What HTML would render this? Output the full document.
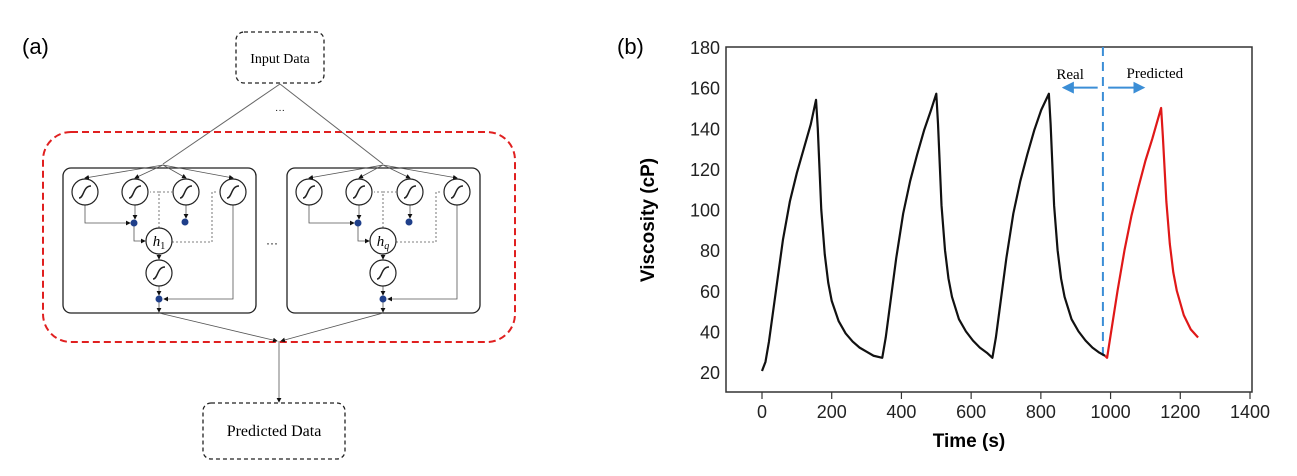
<!DOCTYPE html>
<html><head><meta charset="utf-8"><style>
html,body{margin:0;padding:0;background:#fff;}
svg{display:block;}
</style></head><body>
<svg id="fig" width="1297" height="476" viewBox="0 0 1297 476" xmlns="http://www.w3.org/2000/svg">
<defs>
<marker id="ah" markerWidth="6" markerHeight="6" refX="5" refY="3" orient="auto"><path d="M0,0 L6,3 L0,6 z" fill="#111"/></marker>
<marker id="bh" markerWidth="6" markerHeight="6" refX="5" refY="3" orient="auto"><path d="M0,0 L6,3 L0,6 z" fill="#3b8ed6"/></marker>
<g id="sig"><circle r="13" fill="#fff" stroke="#222" stroke-width="1.2"/><path d="M-6,6 C-1,6 -2,-6 6,-6" fill="none" stroke="#222" stroke-width="1.5"/></g>
</defs>
<text x="22" y="54" font-family="Liberation Sans, sans-serif" font-size="22">(a)</text>
<g>
<rect x="236" y="32" width="88" height="51" rx="8" fill="none" stroke="#222" stroke-width="1.3" stroke-dasharray="4,3"/>
<text x="280" y="63" text-anchor="middle" font-family="Liberation Serif, serif" font-size="14">Input Data</text>
<text x="280" y="113" text-anchor="middle" font-family="Liberation Sans, sans-serif" font-size="10">···</text>
<line x1="280" y1="84" x2="163" y2="164" stroke="#666" stroke-width="1"/>
<line x1="280" y1="84" x2="383" y2="164" stroke="#666" stroke-width="1"/>
<rect x="43" y="132" width="472" height="210" rx="28" fill="none" stroke="#e02020" stroke-width="2" stroke-dasharray="7,4"/>
<g id="cell1">
<rect x="63" y="168" width="193" height="145" rx="8" fill="none" stroke="#222" stroke-width="1.3"/>
<g stroke="#555" stroke-width="0.8" fill="none">
<line x1="163" y1="165" x2="85" y2="178" marker-end="url(#ah)"/>
<line x1="163" y1="165" x2="135" y2="178" marker-end="url(#ah)"/>
<line x1="163" y1="165" x2="186" y2="178" marker-end="url(#ah)"/>
<line x1="163" y1="165" x2="233" y2="178" marker-end="url(#ah)"/>
<polyline points="85,205 85,223 130,223" marker-end="url(#ah)"/>
<line x1="135" y1="205" x2="135" y2="219" marker-end="url(#ah)"/>
<line x1="186" y1="205" x2="186" y2="218" marker-end="url(#ah)"/>
<polyline points="134,226 134,241 145,241" marker-end="url(#ah)"/>
<line x1="159" y1="254" x2="159" y2="259" marker-end="url(#ah)"/>
<line x1="159" y1="286" x2="159" y2="295" marker-end="url(#ah)"/>
<polyline points="233,205 233,299 164,299" marker-end="url(#ah)"/>
<line x1="159" y1="302" x2="159" y2="312" marker-end="url(#ah)"/>
<g stroke-dasharray="2,2"><polyline points="159,228 159,192 150,192"/><line x1="159" y1="192" x2="172" y2="192"/><polyline points="172,242 212,242 212,192 218,192"/></g>
</g>
<use href="#sig" x="85" y="192"/><use href="#sig" x="135" y="192"/><use href="#sig" x="186" y="192"/><use href="#sig" x="233" y="192"/>
<circle cx="159" cy="241" r="13" fill="#fff" stroke="#222" stroke-width="1.2"/>
<use href="#sig" x="159" y="273"/>
<circle cx="134" cy="223" r="3.5" fill="#1f3f8a"/><circle cx="185" cy="222" r="3.5" fill="#1f3f8a"/><circle cx="159" cy="299" r="3.5" fill="#1f3f8a"/>
<text x="159" y="246" text-anchor="middle" font-family="Liberation Serif, serif" font-style="italic" font-size="15">h<tspan font-size="10" font-style="normal" dy="3">1</tspan></text>
</g>
<g transform="translate(224,0)">
<rect x="63" y="168" width="193" height="145" rx="8" fill="none" stroke="#222" stroke-width="1.3"/>
<g stroke="#555" stroke-width="0.8" fill="none">
<line x1="159" y1="165" x2="85" y2="178" marker-end="url(#ah)"/>
<line x1="159" y1="165" x2="135" y2="178" marker-end="url(#ah)"/>
<line x1="159" y1="165" x2="186" y2="178" marker-end="url(#ah)"/>
<line x1="159" y1="165" x2="233" y2="178" marker-end="url(#ah)"/>
<polyline points="85,205 85,223 130,223" marker-end="url(#ah)"/>
<line x1="135" y1="205" x2="135" y2="219" marker-end="url(#ah)"/>
<line x1="186" y1="205" x2="186" y2="218" marker-end="url(#ah)"/>
<polyline points="134,226 134,241 145,241" marker-end="url(#ah)"/>
<line x1="159" y1="254" x2="159" y2="259" marker-end="url(#ah)"/>
<line x1="159" y1="286" x2="159" y2="295" marker-end="url(#ah)"/>
<polyline points="233,205 233,299 164,299" marker-end="url(#ah)"/>
<line x1="159" y1="302" x2="159" y2="312" marker-end="url(#ah)"/>
<g stroke-dasharray="2,2"><polyline points="159,228 159,192 150,192"/><line x1="159" y1="192" x2="172" y2="192"/><polyline points="172,242 212,242 212,192 218,192"/></g>
</g>
<use href="#sig" x="85" y="192"/><use href="#sig" x="135" y="192"/><use href="#sig" x="186" y="192"/><use href="#sig" x="233" y="192"/>
<circle cx="159" cy="241" r="13" fill="#fff" stroke="#222" stroke-width="1.2"/>
<use href="#sig" x="159" y="273"/>
<circle cx="134" cy="223" r="3.5" fill="#1f3f8a"/><circle cx="185" cy="222" r="3.5" fill="#1f3f8a"/><circle cx="159" cy="299" r="3.5" fill="#1f3f8a"/>
<text x="159" y="246" text-anchor="middle" font-family="Liberation Serif, serif" font-style="italic" font-size="15">h<tspan font-size="10" dy="3">q</tspan></text>
</g>
<text x="272" y="247" text-anchor="middle" font-family="Liberation Sans, sans-serif" font-size="12">···</text>
<g stroke="#555" stroke-width="0.8" fill="none">
<line x1="159" y1="313" x2="277" y2="341" marker-end="url(#ah)"/>
<line x1="383" y1="313" x2="281" y2="341" marker-end="url(#ah)"/>
<line x1="279" y1="341" x2="279" y2="402" marker-end="url(#ah)"/>
</g>
<rect x="203" y="403" width="142" height="56" rx="8" fill="none" stroke="#222" stroke-width="1.3" stroke-dasharray="4,3"/>
<text x="274" y="436" text-anchor="middle" font-family="Liberation Serif, serif" font-size="16">Predicted Data</text>
</g>
<text x="617" y="54" font-family="Liberation Sans, sans-serif" font-size="22">(b)</text>
<g id="chart"></g>
</svg>
<script>
const xTicks=[0,200,400,600,800,1000,1200,1400];
const yTicks=[20,40,60,80,100,120,140,160,180];
const realT=[0,10,20,40,60,80,100,120,140,155,160,170,180,190,200,220,240,260,280,300,320,345,
 355,365,385,405,425,445,465,485,500,505,515,525,535,545,565,585,605,625,645,661,
 671,681,701,721,741,761,781,801,823,828,838,848,858,868,888,908,928,948,968,984];
const realV=[20.5,25,35,60,85,104,118,130,142,154,140,100,78,64,55,45,39,35,32,30,28,27,
 37,50,76,98,114,127,139,149,157,142,102,80,66,57,46,40,35.5,32,29.5,27,
 37,50,76,98,114,127,139,149,157,142,102,80,66,57,46,40,35.5,32,29.5,28];
const predT=[984,990,1000,1020,1040,1060,1080,1100,1120,1145,1150,1160,1170,1180,1190,1210,1230,1251];
const predV=[28,27,38,60,80,97,111,124,135,150,136,104,83,69,60,48,41,37];
const splitT=[978];
const NS='http://www.w3.org/2000/svg';
const L=726,R=1252,T=47,B=392;
const sx=t=>762+(t-0)*(1250-762)/1400;
const sy=v=>372-(v-20)*(372-47)/160;
const g=document.getElementById('chart');
function mk(tag,a,p){const e=document.createElementNS(NS,tag);for(const k in a)e.setAttribute(k,a[k]);(p||g).appendChild(e);return e;}
const frame=mk('rect',{x:L,y:T,width:R-L,height:B-T,fill:'none',stroke:'#333','stroke-width':1.5});


xTicks.forEach(t=>{
 const tk=mk('line',{x1:sx(t),x2:sx(t),y1:B,y2:B+7,stroke:'#333','stroke-width':1.2});
 
 
 const lb=mk('text',{x:sx(t),y:B+26,'text-anchor':'middle','font-family':'Liberation Sans, sans-serif','font-size':18,fill:'#222'});
 lb.textContent=t;
 
 
});
yTicks.forEach(v=>{
 const lb=mk('text',{x:L-6,y:sy(v)+7,'text-anchor':'end','font-family':'Liberation Sans, sans-serif','font-size':18,fill:'#222'});
 lb.textContent=v;
 
 
});
const xt=mk('text',{x:(L+R)/2-20,y:447,'text-anchor':'middle','font-family':'Liberation Sans, sans-serif','font-size':19,'font-weight':'bold'});
xt.textContent='Time (s)';


const yt=mk('text',{x:0,y:0,'text-anchor':'middle','font-family':'Liberation Sans, sans-serif','font-size':19,'font-weight':'bold',transform:'translate(654,220) rotate(-90)'});
yt.textContent='Viscosity (cP)';


const dl=mk('line',{x1:sx(splitT[0]),x2:sx(splitT[0]),y1:T,y2:sy(28),stroke:'#3b8ed6','stroke-width':2,'stroke-dasharray':'9,6'});


const a1=mk('line',{x1:sx(963),x2:sx(866),y1:sy(160),y2:sy(160),stroke:'#3b8ed6','stroke-width':2,'marker-end':'url(#bh)'});


const a2=mk('line',{x1:sx(993),x2:sx(1094),y1:sy(160),y2:sy(160),stroke:'#3b8ed6','stroke-width':2,'marker-end':'url(#bh)'});


const t1=mk('text',{x:sx(884),y:79,'text-anchor':'middle','font-family':'Liberation Serif, serif','font-size':15});
t1.textContent='Real';


const t2=mk('text',{x:sx(1127),y:78,'text-anchor':'middle','font-family':'Liberation Serif, serif','font-size':15});
t2.textContent='Predicted';


const pr=mk('polyline',{points:realT.map((t,i)=>sx(t)+','+sy(realV[i])).join(' '),fill:'none',stroke:'#111','stroke-width':2.2,'stroke-linejoin':'round'});


const pp=mk('polyline',{points:predT.map((t,i)=>sx(t)+','+sy(predV[i])).join(' '),fill:'none',stroke:'#e01818','stroke-width':2.2,'stroke-linejoin':'round'});


</script>
</body></html>
